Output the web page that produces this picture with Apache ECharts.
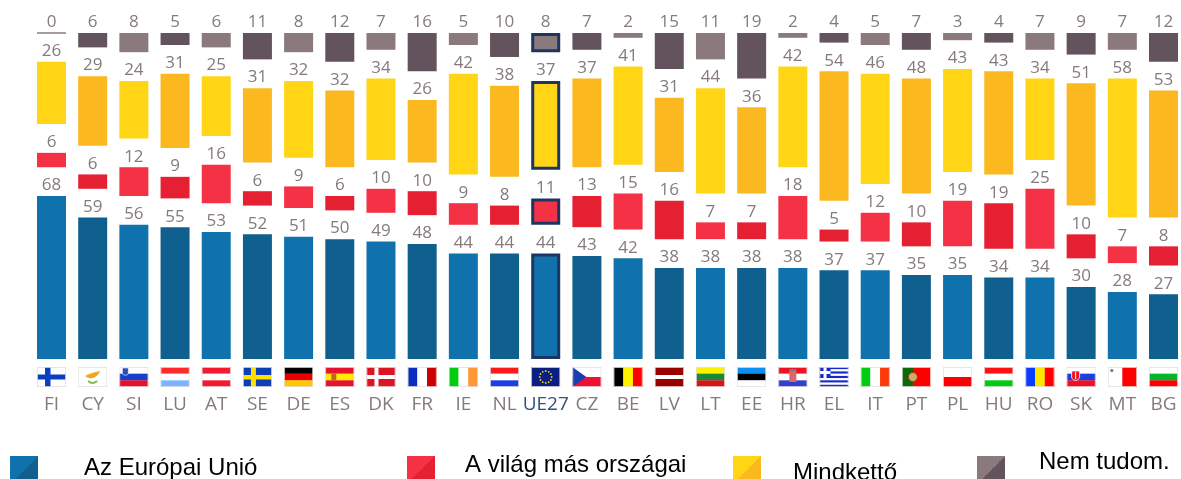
<!DOCTYPE html>
<html>
<head>
<meta charset="utf-8">
<style>html,body{margin:0;padding:0;background:#fff;overflow:hidden}#c{width:1181px;height:479px}</style>
<script src="https://cdn.jsdelivr.net/npm/echarts@6/dist/echarts.min.js"></script>
</head>
<body>
<div id="c"></div>
<script>
const categories = ['FI','CY','SI','LU','AT','SE','DE','ES','DK','FR','IE','NL','UE27','CZ','BE','LV','LT','EE','HR','EL','IT','PT','PL','HU','RO','SK','MT','BG'];
const euValues    = [68,59,56,55,53,52,51,50,49,48,44,44,44,43,42,38,38,38,38,37,37,35,35,34,34,30,28,27];
const worldValues = [6,6,12,9,16,6,9,6,10,10,9,8,11,13,15,16,7,7,18,5,12,10,19,19,25,10,7,8];
const bothValues  = [26,29,24,31,25,31,32,32,34,26,42,38,37,37,41,31,44,36,42,54,46,48,43,43,34,51,58,53];
const dkValues    = [0,6,8,5,6,11,8,12,7,16,5,10,8,7,2,15,11,19,2,4,5,7,3,4,7,9,7,12];
const seriesNames = ['Az Európai Unió','A világ más országai','Mindkettő','Nem tudom.'];
const GAP = 12; // blank band between the stacked groups, in axis units

const h = (...c) => c.map((k,i)=>`<rect x="0" y="${i*20/c.length}" width="29" height="${20/c.length+.2}" fill="${k}"/>`).join('');
const v = (...c) => c.map((k,i)=>`<rect x="${i*29/c.length}" y="0" width="${29/c.length+.2}" height="20" fill="${k}"/>`).join('');
const stars = Array.from('............').map((_,i)=>`<circle cx="${14.5+6*Math.cos(i*Math.PI/6)}" cy="${10+6*Math.sin(i*Math.PI/6)}" r="0.9" fill="#e8cf2a"/>`).join('');
const flagArt = {
  FI: h('#fff')+'<rect x="8" width="5.5" height="20" fill="#0b3fc0"/><rect y="7.5" width="29" height="5" fill="#0b3fc0"/>',
  CY: h('#fff')+'<path d="M7 9 Q12 6 22 4 Q20 9 15 11 Q10 12 7 9Z" fill="#f2a71b"/><path d="M10 14 Q14 18 19 14" stroke="#7bc04a" stroke-width="2" fill="none"/>',
  SI: h('#fff','#1740c8','#e8112d')+'<path d="M3 1h6v6q-3 3-6 0Z" fill="#2a4fb5" stroke="#fff" stroke-width=".6"/>',
  LU: h('#ff2a2a','#fff','#7db4ff'),
  AT: h('#f5182f','#fff','#f5182f'),
  SE: h('#0b3fb5')+'<rect x="8" width="5" height="20" fill="#fde000"/><rect y="8" width="29" height="4.5" fill="#fde000"/>',
  DE: h('#000','#e60000','#ffc800'),
  ES: h('#e8112d','#ffec00','#e8112d')+'<rect x="6" y="6.5" width="5" height="7" fill="#c9651b"/>',
  DK: h('#dc1423')+'<rect x="8" width="4" height="20" fill="#fff"/><rect y="8" width="29" height="4" fill="#fff"/>',
  FR: v('#0a2fc0','#fff','#cc0000'),
  IE: v('#00cc11','#fff','#ff9933'),
  NL: h('#ff1a1a','#fff','#1a3fe8'),
  UE27: h('#0a1f80')+stars,
  CZ: h('#fff','#ee1133')+'<path d="M0 0L14 10L0 20Z" fill="#1a3fb0"/>',
  BE: v('#000','#fff200','#ff0000'),
  LV: h('#990000','#990000','#fff','#990000','#990000'),
  LT: h('#fff000','#1a8a3a','#d81616'),
  EE: h('#0a90f0','#000','#fff'),
  HR: h('#ee1122','#fff','#3340c8')+'<rect x="11" y="4" width="7" height="11" fill="#d66"/><rect x="11" y="2" width="7" height="2" fill="#778"/>',
  EL: h('#1428cc','#fff','#1428cc','#fff','#1428cc','#fff','#1428cc','#fff','#1428cc')+'<rect width="11" height="11" fill="#1428cc"/><rect x="4" width="3" height="11" fill="#fff"/><rect y="4" width="11" height="3" fill="#fff"/>',
  IT: v('#00cc11','#fff','#ff3a0a'),
  PT: '<rect width="29" height="20" fill="#ff0000"/><rect width="11" height="20" fill="#0a6a0a"/><circle cx="11" cy="10" r="4.5" fill="#c9b05a" stroke="#a33" stroke-width="1"/>',
  PL: h('#fff','#ff0000'),
  HU: h('#ff0f0f','#fff','#00cc11'),
  RO: v('#0a3cff','#ffe600','#ff0000'),
  SK: h('#fff','#1640e0','#ee1122')+'<path d="M5 4h8v7q-4 5-8 0Z" fill="#ee1122" stroke="#fff" stroke-width=".8"/><rect x="8.5" y="5" width="1" height="7" fill="#fff"/>',
  MT: v('#fff','#ff0000')+'<circle cx="4" cy="3.5" r="1.6" fill="#777"/>',
  BG: h('#fff','#00b52a','#ff0000')
};
const flagUri = k => 'data:image/svg+xml;charset=utf-8,' + encodeURIComponent(
  `<svg xmlns="http://www.w3.org/2000/svg" width="29" height="20" viewBox="0 0 29 20">${flagArt[k]}<rect x=".4" y=".4" width="28.2" height="19.2" fill="none" stroke="#e5dfdf" stroke-width=".8"/></svg>`);

const palette = [
  ['#1072ad','#0f5f8f'],
  ['#f43145','#e62033'],
  ['#ffd516','#fbb81f'],
  ['#8a7a7c','#62535c']
];
const HIGHLIGHT = 'UE27';
const labelColor = '#857a7c';
const fontFamily = '"Open Sans", sans-serif';

const barData = (vals, s) => vals.map((value, i) => {
  const it = {value, itemStyle:{color: palette[s][i%2]}};
  if (categories[i] === HIGHLIGHT) { it.itemStyle.borderColor = '#1c3661'; it.itemStyle.borderWidth = 3; }
  if (value === 0) { it.itemStyle.borderColor = '#8a7a7c'; it.itemStyle.borderWidth = 1; }
  return it;
});
const barSeries = (name, vals, s) => ({
  name, type:'bar', stack:'all', barWidth:29, data:barData(vals,s),
  itemStyle:{color:palette[s][0]},
  label:{show:true, position:'top', distance:2, color:labelColor, fontFamily, fontSize:17},
  emphasis:{disabled:true}, animation:false
});
const gapSeries = id => ({
  name:'gap'+id, type:'bar', stack:'all', barWidth:29, silent:true,
  data:categories.map(()=>GAP), itemStyle:{color:'transparent'}, label:{show:false}, animation:false
});

const rich = {
  code:{color:labelColor, fontFamily, fontSize:19, lineHeight:36, align:'center'},
  codeHi:{color:'#34507c', fontFamily, fontSize:19, lineHeight:36, align:'center'}
};
categories.forEach(k => { rich['f_'+k] = {width:29, height:20, align:'center', backgroundColor:{image:flagUri(k)}}; });

const legendSpec = [
  {idx:0, left:10,  w:46, lift:0},
  {idx:1, left:407, w:30, lift:3},
  {idx:2, left:733, w:32, lift:-1},
  {idx:3, left:977, w:34, lift:6}
];
const legends = legendSpec.map(l => ({
  left:l.left, top:456-Math.max(0,l.lift), padding:0, orient:'horizontal', data:[seriesNames[l.idx]],
  icon:'rect', itemWidth:28, itemHeight:28, selectedMode:false,
  itemStyle:{color:{type:'linear',x:0,y:0,x2:1,y2:1,colorStops:[
    {offset:0,color:palette[l.idx][0]},{offset:.5,color:palette[l.idx][0]},
    {offset:.5,color:palette[l.idx][1]},{offset:1,color:palette[l.idx][1]}]}},
  formatter:'{t|{name}}',
  textStyle:{color:'#000', rich:{t:{
    color:'#000', fontFamily:'"Liberation Sans", Arial, sans-serif', fontSize:24,
    lineHeight:28+2*Math.abs(l.lift), verticalAlign:l.lift>=0?'top':'bottom',
    padding:[0,0,0,l.w-5]
  }}}
}));

const chart = echarts.init(document.getElementById('c'), null, {renderer:'canvas'});
chart.setOption({
  animation:false,
  backgroundColor:'#fff',
  grid:{left:51.5, width:1112.4, top:33, height:326, containLabel:false},
  legend:legends,
  xAxis:{type:'category', boundaryGap:false, data:categories, axisLine:{show:false}, axisTick:{show:false}, splitLine:{show:false},
    axisLabel:{interval:0, margin:8, hideOverlap:false, rich,
      formatter:k => `{f_${k}| }\n{${k===HIGHLIGHT?'codeHi':'code'}|${k}}`}},
  yAxis:{type:'value', min:0, max:100+3*GAP, show:false},
  series:[
    barSeries(seriesNames[0], euValues, 0), gapSeries(1),
    barSeries(seriesNames[1], worldValues, 1), gapSeries(2),
    barSeries(seriesNames[2], bothValues, 2), gapSeries(3),
    barSeries(seriesNames[3], dkValues, 3)
  ]
});
</script>
</body>
</html>
